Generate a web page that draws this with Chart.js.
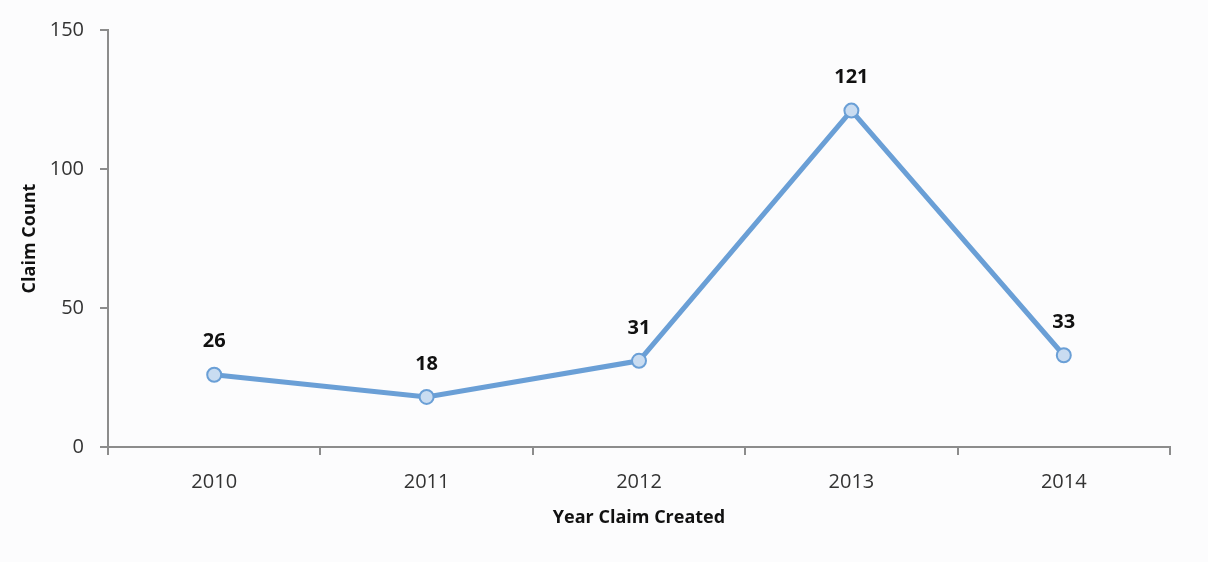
<!DOCTYPE html>
<html>
<head>
<meta charset="utf-8">
<script src="https://cdn.jsdelivr.net/npm/chart.js@4.4.0/dist/chart.umd.min.js"></script>
<style>
    html, body { margin: 0; padding: 0; background: #fcfcfd; }
    #wrap { width: 1208px; height: 562px; position: relative; }
</style>
</head>
<body>
<div id="wrap"><canvas id="claimsChart"></canvas></div>
<script>
// Claims per year
const years = ['2010', '2011', '2012', '2013', '2014'];
const claimCounts = [26, 18, 31, 121, 33];
const yTicks = [0, 50, 100, 150];

const axisColor = '#8c8c8c';
const lineColor = '#6a9fd6';

// Bold value labels above each point
const valueLabels = {
    id: 'valueLabels',
    afterDatasetsDraw(chart) {
        const ctx = chart.ctx;
        const meta = chart.getDatasetMeta(0);
        ctx.save();
        ctx.font = 'bold 20px "Open Sans", Lato, sans-serif';
        ctx.fillStyle = '#111';
        ctx.textAlign = 'center';
        ctx.textBaseline = 'middle';
        meta.data.forEach((pt, i) => {
            ctx.fillText(String(claimCounts[i]), pt.x, pt.y - 33);
        });
        ctx.restore();
    }
};

Chart.defaults.font.family = '"Open Sans", Lato, sans-serif';

new Chart(document.getElementById('claimsChart'), {
    type: 'line',
    data: {
        labels: years,
        datasets: [{
            data: claimCounts,
            borderColor: lineColor,
            borderWidth: 5,
            backgroundColor: '#c9dcf1',
            pointBorderColor: lineColor,
            pointBorderWidth: 2,
            pointRadius: 7,
            tension: 0
        }]
    },
    options: {
        responsive: true,
        maintainAspectRatio: false,
        animation: false,
        layout: { padding: { top: 30, right: 38, bottom: 0, left: 0 } },
        plugins: {
            legend: { display: false },
            tooltip: { enabled: false }
        },
        scales: {
            x: {
                offset: true,
                grid: { offset: true, drawOnChartArea: false, tickLength: 8, color: axisColor, lineWidth: 2 },
                border: { color: axisColor, width: 2 },
                ticks: { color: '#333', font: { size: 20 }, padding: 15, maxRotation: 0 },
                title: {
                    display: true,
                    text: 'Year Claim Created',
                    color: '#111',
                    font: { size: 18, weight: 'bold' },
                    padding: { top: 4, bottom: 33 }
                },
                afterFit(scale) { scale.height = 115; }
            },
            y: {
                min: 0,
                max: 150,
                afterBuildTicks(scale) { scale.ticks = yTicks.map(v => ({ value: v })); },
                grid: { drawOnChartArea: false, tickLength: 8, color: axisColor, lineWidth: 2 },
                border: { color: axisColor, width: 2 },
                ticks: { color: '#333', font: { size: 20 }, padding: 16 },
                title: {
                    display: true,
                    text: 'Claim Count',
                    color: '#111',
                    font: { size: 18, weight: 'bold' },
                    padding: { top: 19, bottom: 0 }
                },
                afterFit(scale) { scale.width = 108; }
            }
        }
    },
    plugins: [valueLabels]
});
</script>
</body>
</html>
